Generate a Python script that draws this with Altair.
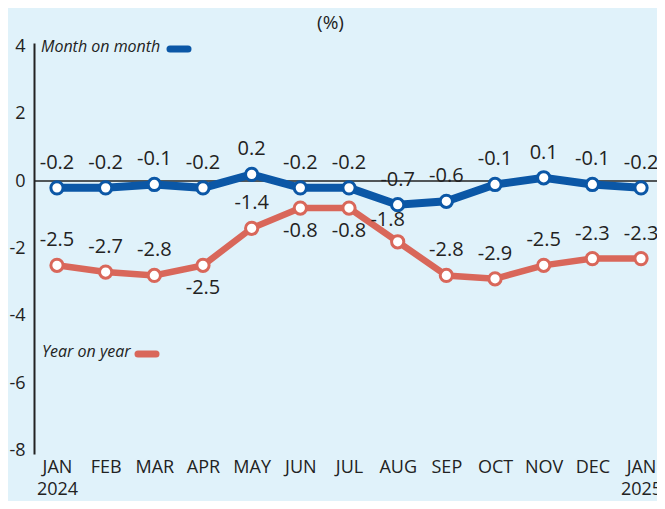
import altair as alt
import pandas as pd

# ---- data ----
months = ["JAN", "FEB", "MAR", "APR", "MAY", "JUN", "JUL", "AUG", "SEP", "OCT", "NOV", "DEC", "JAN"]
years = ["2024", "", "", "", "", "", "", "", "", "", "", "", "2025"]
series_names = ["Month on month", "Year on year"]
mom = [-0.2, -0.2, -0.1, -0.2, 0.2, -0.2, -0.2, -0.7, -0.6, -0.1, 0.1, -0.1, -0.2]
yoy = [-2.5, -2.7, -2.8, -2.5, -1.4, -0.8, -0.8, -1.8, -2.8, -2.9, -2.5, -2.3, -2.3]
y_ticks = [-8, -6, -4, -2, 0, 2, 4]

# label placement (style config, not data)
mom_side = ["above"] * 13
yoy_side = ["above", "above", "above", "below", "above", "below", "below",
            "left", "above", "above", "above", "above", "above"]

keys = [f"{m}|{y}" for m, y in zip(months, years)]
rows = []
for k, v, s in zip(keys, mom, mom_side):
    rows.append({"key": k, "series": series_names[0], "value": v, "label": f"{v:.1f}", "side": s})
for k, v, s in zip(keys, yoy, yoy_side):
    rows.append({"key": k, "series": series_names[1], "value": v, "label": f"{v:.1f}", "side": s})
df = pd.DataFrame(rows)

BG = "#E0F2FA"
BLUE = "#0B57A6"
RED = "#D9675A"
INK = "#222222"
FONT = "Open Sans"

x_enc = alt.X(
    "key:N", sort=keys,
    scale=alt.Scale(type="point", padding=0.4, align=0.59),
    axis=alt.Axis(title=None, labelExpr="split(datum.value, '|')", labelAngle=0,
                  domain=False, ticks=False, grid=False, labelFont=FONT, labelFontSize=18,
                  labelColor=INK, labelPadding=4, labelLineHeight=22, labelOverlap=False,
                  labelBaseline="top"),
)
y_enc = alt.Y(
    "value:Q",
    scale=alt.Scale(domain=[-8.1, 4.1], nice=False, zero=False),
    axis=alt.Axis(title=None, values=y_ticks, labelExpr="'' + datum.value", grid=False,
                  ticks=False, domainColor=INK, domainWidth=2, labelFont=FONT,
                  labelFontSize=18, labelColor=INK, labelPadding=9),
)
color_scale = alt.Scale(domain=series_names, range=[BLUE, RED])

base = alt.Chart(df).encode(x=x_enc, y=y_enc)

zero = alt.Chart(pd.DataFrame({"z": [0]})).mark_rule(color=INK, strokeWidth=1.5).encode(
    y=alt.Y("z:Q", scale=alt.Scale(domain=[-8.1, 4.1], nice=False, zero=False))
)

lines = base.mark_line().encode(
    color=alt.Color("series:N", scale=color_scale, legend=None),
    strokeWidth=alt.StrokeWidth("series:N", scale=alt.Scale(domain=series_names, range=[8, 6.5]), legend=None),
)

points = base.mark_point(shape="circle", filled=False, fill="white", fillOpacity=1, opacity=1,
                         size=150, strokeWidth=3).encode(
    stroke=alt.Stroke("series:N", scale=color_scale, legend=None),
)

txt = dict(font=FONT, fontSize=20, color=INK, baseline="middle", align="center")
lab_above = base.transform_filter(alt.datum.side == "above").mark_text(dy=-25, **txt).encode(text="label:N")
lab_below = base.transform_filter(alt.datum.side == "below").mark_text(dy=23, **txt).encode(text="label:N")
lab_left = base.transform_filter(alt.datum.side == "left").mark_text(dy=-22, dx=-10, **txt).encode(text="label:N")

leg_txt = dict(font=FONT, fontSize=16, fontStyle="italic", color=INK, baseline="middle", align="left")
leg1 = alt.Chart(pd.DataFrame({"t": [series_names[0]]})).mark_text(**leg_txt).encode(
    text="t:N", x=alt.value(7), y=alt.value(4))
leg1s = alt.Chart(pd.DataFrame({"t": [series_names[0]]})).mark_rule(
    color=BLUE, strokeWidth=7, strokeCap="round").encode(
    x=alt.value(136), x2=alt.value(154), y=alt.value(6))
leg2 = alt.Chart(pd.DataFrame({"t": [series_names[1]]})).mark_text(**leg_txt).encode(
    text="t:N", x=alt.value(8), y=alt.value(309))
leg2s = alt.Chart(pd.DataFrame({"t": [series_names[1]]})).mark_rule(
    color=RED, strokeWidth=7, strokeCap="round").encode(
    x=alt.value(104), x2=alt.value(122), y=alt.value(311))

chart = alt.layer(
    zero, lines, points, lab_above, lab_below, lab_left, leg1, leg1s, leg2, leg2s
).properties(
    width=623, height=411,
    autosize=alt.AutoSizeParams(type="none"),
    padding={"left": 26, "top": 35, "right": 0, "bottom": 47},
    background=BG,
    title=alt.TitleParams("(%)", font=FONT, fontSize=19, fontWeight="normal", color=INK,
                          anchor="middle", dx=-15, offset=4),
).configure_view(stroke=None)

chart.save("out.html", embed_options={"renderer": "svg", "actions": False})
